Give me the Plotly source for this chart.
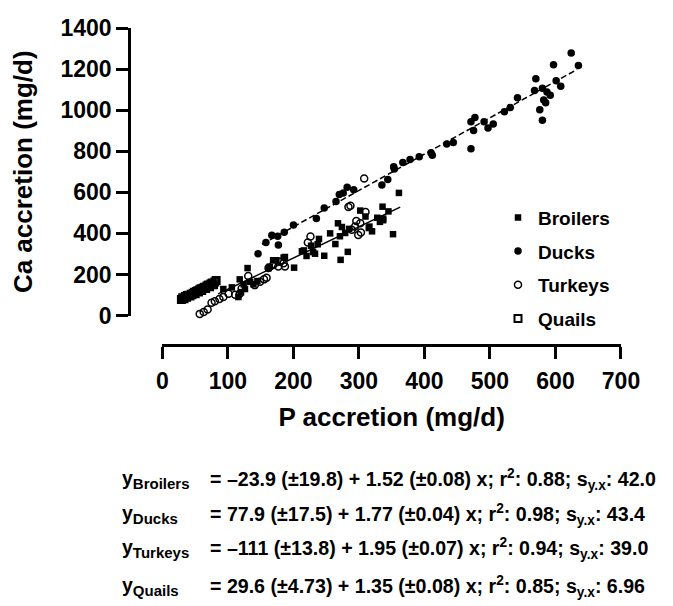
import plotly.graph_objects as go

# ---------------- data ----------------
broilers_x = [93, 106, 116, 118, 120, 124, 126, 130, 134, 139, 145, 162, 164, 169, 174, 185, 187,
              201, 213, 216, 220, 227, 230, 233, 237, 239, 247, 256, 264, 268, 271, 272, 274, 279,
              283, 285, 302, 310, 315, 316, 320, 328, 332, 336, 337, 337, 345, 352, 361]
broilers_y = [129, 137, 90, 176, 114, 152, 129, 231, 164, 152, 168, 231, 238, 269, 269, 282, 285,
              233, 313, 317, 290, 340, 309, 301, 347, 373, 291, 400, 348, 449, 386, 271, 431, 402,
              310, 422, 511, 482, 426, 433, 410, 476, 456, 530, 472, 464, 507, 396, 597]

ducks_x = [146, 158, 167, 176, 177, 186, 200, 235, 247, 265, 270, 276, 282, 292, 335, 344, 354,
           353, 367, 378, 392, 410, 412, 434, 444, 471, 471, 477, 475, 491, 497, 505, 522, 531,
           542, 570, 568, 576, 580, 580, 582, 585, 587, 592, 597, 601, 608, 624, 635]
ducks_y = [301, 355, 391, 386, 343, 405, 441, 472, 524, 555, 589, 597, 625, 613, 636, 662, 714,
           725, 745, 760, 773, 792, 780, 835, 842, 812, 943, 964, 901, 943, 913, 932, 992, 1013,
           1060, 1153, 1096, 1002, 951, 1107, 1049, 1036, 1088, 1072, 1221, 1143, 1116, 1278, 1217]

turkeys_x = [57, 63, 69, 75, 80, 87, 93, 101, 111, 118, 121, 131, 141, 149, 155, 159, 162, 169,
             177, 180, 185, 187, 222, 226, 284, 287, 289, 294, 302, 303, 310, 308, 296, 299]
turkeys_y = [8, 17, 29, 62, 70, 80, 90, 106, 101, 106, 132, 192, 148, 164, 176, 184, 231, 246,
             239, 262, 254, 239, 355, 385, 528, 535, 418, 433, 449, 404, 504, 667, 460, 392]

quails_x = [29, 31, 33, 35, 37, 38, 40, 42, 44, 45, 47, 49, 50, 52, 54, 55, 57, 59, 60, 62, 64,
            66, 68, 70, 72, 74, 76, 78, 80, 82]
quails_y = [78, 86, 82, 92, 89, 97, 99, 95, 104, 101, 109, 113, 106, 117, 121, 114, 126, 130,
            122, 133, 138, 131, 144, 148, 140, 154, 158, 150, 163, 170]

# regression lines drawn (intercept, slope, x-extent)
broiler_fit = [-23.9, 1.52]
broiler_fit_x = [85, 363]
duck_fit = [77.9, 1.77]
duck_fit_x = [152, 633]

x_ticks = [0, 100, 200, 300, 400, 500, 600, 700]
y_ticks = [0, 200, 400, 600, 800, 1000, 1200, 1400]

eq_labels = ["Broilers", "Ducks", "Turkeys", "Quails"]
eq_texts = [
    "= –23.9 (±19.8) + 1.52 (±0.08) x; r<sup>2</sup>: 0.88; s<sub>y.x</sub>: 42.0",
    "= 77.9 (±17.5) + 1.77 (±0.04) x; r<sup>2</sup>: 0.98; s<sub>y.x</sub>: 43.4",
    "= –111 (±13.8) + 1.95 (±0.07) x; r<sup>2</sup>: 0.94; s<sub>y.x</sub>: 39.0",
    "= 29.6 (±4.73) + 1.35 (±0.08) x; r<sup>2</sup>: 0.85; s<sub>y.x</sub>: 6.96",
]

# ---------------- figure ----------------
FONT = "Liberation Sans, Arial, sans-serif"
fig = go.Figure()

fig.add_trace(go.Scatter(
    x=broiler_fit_x, y=[broiler_fit[0] + broiler_fit[1] * v for v in broiler_fit_x],
    mode="lines", line=dict(color="black", width=1.5), showlegend=False, hoverinfo="skip"))
fig.add_trace(go.Scatter(
    x=duck_fit_x, y=[duck_fit[0] + duck_fit[1] * v for v in duck_fit_x],
    mode="lines", line=dict(color="black", width=1.5, dash="6px,3px"), showlegend=False,
    hoverinfo="skip"))

fig.add_trace(go.Scatter(x=broilers_x, y=broilers_y, mode="markers", name="Broilers",
                         legendgroup="b", cliponaxis=False,
                         marker=dict(symbol="square", size=6.5, color="black")))
fig.add_trace(go.Scatter(x=ducks_x, y=ducks_y, mode="markers", name="Ducks",
                         legendgroup="d", cliponaxis=False,
                         marker=dict(symbol="circle", size=7.5, color="black")))
fig.add_trace(go.Scatter(x=turkeys_x, y=turkeys_y, mode="markers", name="Turkeys",
                         legendgroup="t", cliponaxis=False,
                         marker=dict(symbol="circle-open", size=7, color="black",
                                     line=dict(width=1.5))))
fig.add_trace(go.Scatter(x=quails_x, y=quails_y, mode="markers", name="Quails",
                         legendgroup="q", cliponaxis=False,
                         marker=dict(symbol="square-open", size=7, color="black",
                                     line=dict(width=2))))

axis_common = dict(showline=True, linecolor="black", linewidth=2.5, ticks="outside",
                   ticklen=12, tickwidth=2.5, tickcolor="black", showgrid=False,
                   zeroline=False, anchor="free", position=0, ticklabeloverflow="allow",
                   tickfont=dict(family=FONT, size=23, color="black", weight="bold"))

fig.update_layout(
    width=673, height=606,
    margin=dict(l=121, r=60, t=7, b=269),
    paper_bgcolor="white", plot_bgcolor="white",
    font=dict(family=FONT, color="black"),
    xaxis=dict(domain=[0.0679, 1], range=[0, 700], tickvals=x_ticks, ticklabelstandoff=3,
               title=dict(text="P accretion (mg/d)", standoff=14,
                          font=dict(family=FONT, size=26, color="black", weight="bold")),
               **axis_common),
    yaxis=dict(domain=[0.093, 1], range=[0, 1400], tickvals=y_ticks,
               title=dict(text="Ca accretion (mg/d)", standoff=21,
                          font=dict(family=FONT, size=26, color="black", weight="bold")),
               **axis_common),
    showlegend=True,
    legend=dict(x=0.75, y=0.462, xanchor="left", yanchor="top",
                font=dict(family=FONT, size=19, color="black", weight="bold"),
                tracegroupgap=6, bgcolor="rgba(0,0,0,0)", borderwidth=0),
)

row_y = [-0.4242, -0.5333, -0.6424, -0.7606]
for lab, txt, yy in zip(eq_labels, eq_texts, row_y):
    fig.add_annotation(xref="paper", yref="paper", x=-0.0183, y=yy, xanchor="left",
                       yanchor="middle", showarrow=False,
                       text="y<sub><span style='font-size:15px'>" + lab + "</span></sub>",
                       font=dict(family=FONT, size=19.5, color="black", weight="bold"))
    fig.add_annotation(xref="paper", yref="paper", x=0.1606, y=yy, xanchor="left",
                       yanchor="middle", showarrow=False, text=txt,
                       font=dict(family=FONT, size=19.6, color="black", weight="bold"))

fig.write_html("out.html")
